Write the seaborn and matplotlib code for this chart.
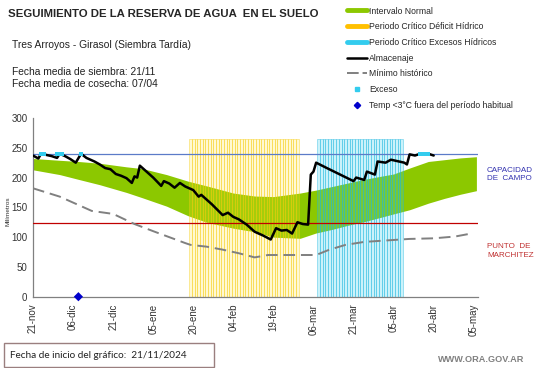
# Seguimiento de la reserva de agua en el suelo - Tres Arroyos, girasol
import numpy as np
import pandas as pd
import matplotlib.pyplot as plt
import seaborn as sns
from matplotlib.lines import Line2D
from matplotlib.patches import Rectangle

sns.set_style("white")
plt.rcParams['font.family'] = ['Liberation Sans', 'DejaVu Sans']

# x axis: days since 21-nov
tick_days = [0, 15, 30, 45, 60, 75, 90, 105, 120, 135, 150, 165]
tick_labels = ['21-nov', '06-dic', '21-dic', '05-ene', '20-ene', '04-feb',
               '19-feb', '06-mar', '21-mar', '05-abr', '20-abr', '05-may']

# Intervalo normal (band)
band_days = [0, 10, 17, 25, 35, 41, 50, 58, 65, 75, 83, 90, 100, 106, 112,
             118, 124, 130, 135, 141, 148, 154, 160, 166]
band_low = [213, 205, 197, 188, 175, 166, 152, 136, 125, 115, 109, 100, 98,
            107, 113, 120, 126, 133, 139, 146, 157, 165, 172, 178]
band_high = [232, 229, 227, 224, 218, 215, 205, 194, 186, 174, 169, 168, 174,
             179, 185, 191, 197, 202, 206, 216, 227, 230, 233, 235]

# Minimo historico
min_days = [0, 10, 18, 22, 30, 38, 45, 57, 59, 65, 71, 77, 83, 88, 95, 106,
            111, 117, 124, 141, 150, 158, 164]
min_vals = [182, 168, 152, 144, 139, 122, 110, 90, 87, 84, 79, 73, 66, 70,
            70, 70, 79, 87, 92, 97, 98, 101, 106]

# Almacenaje
alm_days = [0, 2, 3, 5, 7, 9, 10, 12, 14, 16, 18, 20, 23, 25, 27, 29, 31, 33,
            35, 37, 38, 39, 40, 42, 45, 48, 49, 51, 53, 55, 57, 60, 62, 63,
            67, 69, 71, 73, 75, 77, 80, 83, 86, 89, 91, 93, 95, 97, 99, 101,
            103, 104, 105, 106, 110, 115, 120, 121, 124, 125, 128, 129, 132,
            134, 139, 140, 141, 143, 145, 148, 150]
alm_vals = [237, 232, 240, 238, 236, 233, 240, 236, 231, 225, 240, 233, 227,
            222, 216, 214, 206, 203, 199, 191, 202, 200, 220, 212, 200, 186,
            194, 190, 183, 191, 185, 179, 168, 171, 155, 146, 137, 141, 134,
            130, 121, 109, 103, 96, 115, 111, 112, 106, 125, 122, 121, 205,
            210, 225, 216, 205, 194, 200, 196, 210, 205, 227, 225, 230, 225,
            222, 239, 237, 240, 240, 237]

# Exceso markers and cold day marker
exceso_days = [3, 4, 9, 10, 11, 18, 145, 146, 147, 148]
exceso_vals = [240] * len(exceso_days)
temp_days = [17]
temp_vals = [0]

# Critical periods (daily columns)
deficit_days = list(range(59, 100))
excesos_days = list(range(107, 139))
period_height = 265

capacidad = 240
marchitez = 123

green = '#8CC800'
yellow = '#FFD200'
cyan = '#33CCEE'

fig = plt.figure(figsize=(5.41, 3.68), dpi=100)
ax = fig.add_axes([33 / 541, 1 - 296.7 / 368, 445 / 541, 178.7 / 368])

ax.fill_between(band_days, band_low, band_high, color=green, lw=0, zorder=1)

ax.bar(deficit_days, [period_height] * len(deficit_days), width=1,
       facecolor=(1.0, 0.88, 0.2, 0.22), edgecolor=(0.97, 0.80, 0.05, 0.6),
       linewidth=0.45, zorder=2)
ax.bar(excesos_days, [period_height] * len(excesos_days), width=1,
       facecolor=(0.2, 0.8, 0.93, 0.25), edgecolor=(0.12, 0.72, 0.88, 0.6),
       linewidth=0.45, zorder=2)

ax.axhline(capacidad, color='#5B7BC8', lw=0.9, zorder=3)
ax.axhline(marchitez, color='#C00000', lw=0.9, zorder=3)

min_df = pd.DataFrame({'dia': min_days, 'mm': min_vals})
alm_df = pd.DataFrame({'dia': alm_days, 'mm': alm_vals})
sns.lineplot(data=min_df, x='dia', y='mm', ax=ax, color='#808080', lw=1.4,
             linestyle=(0, (6, 3)), zorder=3)
sns.lineplot(data=alm_df, x='dia', y='mm', ax=ax, color='black', lw=1.8,
             zorder=4)
sns.scatterplot(x=exceso_days, y=exceso_vals, ax=ax, marker='s', s=7,
                color=cyan, edgecolor='none', zorder=5)
sns.scatterplot(x=temp_days, y=temp_vals, ax=ax, marker='D', s=22,
                color='#0000CC', edgecolor='none', zorder=6, clip_on=False)

ax.set_xlim(0, 166.6)
ax.set_ylim(0, 300)
ax.set_xticks(tick_days)
ax.set_xticklabels(tick_labels, rotation=90)
ax.set_yticks(range(0, 301, 50))
ax.set_xlabel('')
ax.set_ylabel('')
ax.tick_params(axis='both', labelsize=7, length=3, width=0.8, pad=1,
               color='#808080', labelcolor='#333333')
ax.tick_params(axis='x', pad=2)
for side in ['top', 'right']:
    ax.spines[side].set_visible(False)
for side in ['left', 'bottom']:
    ax.spines[side].set_color('#808080')
    ax.spines[side].set_linewidth(0.9)

fig.text(8 / 541, 1 - 211 / 368, 'Milímetros', rotation=90, fontsize=4.6,
         ha='center', va='center', color='#333333')

# header texts
fig.text(8 / 541, 1 - 14 / 368, 'SEGUIMIENTO DE LA RESERVA DE AGUA  EN EL SUELO',
         fontsize=8.2, fontweight='bold', va='center')
fig.text(12 / 541, 1 - 45 / 368, 'Tres Arroyos - Girasol (Siembra Tardía)',
         fontsize=7.4, va='center', color='#222222')
fig.text(12 / 541, 1 - 72 / 368, 'Fecha media de siembra: 21/11',
         fontsize=7.4, va='center', color='#222222')
fig.text(12 / 541, 1 - 84 / 368, 'Fecha media de cosecha: 07/04',
         fontsize=7.4, va='center', color='#222222')

# legend
handles = [
    Line2D([], [], color=green, lw=3.5),
    Line2D([], [], color='#FFC000', lw=3.5),
    Line2D([], [], color=cyan, lw=3.5),
    Line2D([], [], color='black', lw=1.8),
    Line2D([], [], color='#808080', lw=1.4, linestyle=(0, (6, 2))),
    Line2D([], [], color=cyan, ls='', marker='s', ms=2.2),
    Line2D([], [], color='#0000CC', ls='', marker='D', ms=3.2),
]
labels = ['Intervalo Normal', 'Periodo Crítico Déficit Hídrico',
          'Periodo Crítico Excesos Hídricos', 'Almacenaje', 'Mínimo histórico',
          'Exceso', 'Temp <3°C fuera del período habitual']
fig.legend(handles, labels, loc='upper left',
           bbox_to_anchor=(347 / 541, 1 - 6.5 / 368), frameon=False,
           fontsize=6.2, handlelength=2.3, handletextpad=0.3,
           labelspacing=0.78, borderpad=0, borderaxespad=0)

# reference line labels
fig.text(487 / 541, 1 - 174.5 / 368, 'CAPACIDAD\nDE  CAMPO', fontsize=5.8,
         color='#3333B0', va='center', linespacing=1.25)
fig.text(487 / 541, 1 - 251 / 368, 'PUNTO  DE\nMARCHITEZ', fontsize=5.8,
         color='#C03030', va='center', linespacing=1.25)

# footer
fig.add_artist(Rectangle((4 / 541, 1 - 367 / 368), 210 / 541, 24 / 368,
                         transform=fig.transFigure, fill=False,
                         edgecolor='#9A7F7F', lw=1))
fig.text(10 / 541, 1 - 355 / 368, 'Fecha de inicio del gráfico:  21/11/2024',
         fontsize=7.2, va='center', family=['Lato', 'DejaVu Sans'],
         color='#222222')
fig.text(524 / 541, 1 - 360 / 368, 'WWW.ORA.GOV.AR', fontsize=6.6,
         fontweight='bold', color='#808080', ha='right', va='center')

fig.savefig('out.png', dpi=100)
